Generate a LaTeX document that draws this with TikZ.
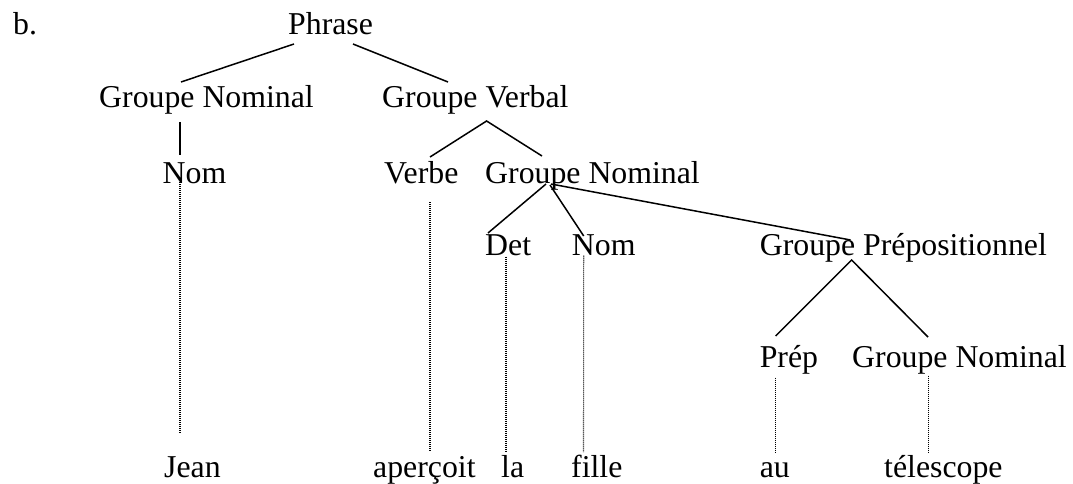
\documentclass[tikz,border=0pt]{standalone}
\usepackage{fontspec}
\setmainfont{Liberation Serif}
\begin{document}
\begin{tikzpicture}[x=1pt,y=-1pt,
  lbl/.style={anchor=base west,inner sep=0pt,font=\fontsize{31.8}{38}\selectfont},
  branch/.style={line width=1.5pt},
  leaf/.style={line width=1.1pt,dash pattern=on 1pt off 1pt}]
\useasboundingbox (0,0) rectangle (1073,484);

% labels (base west anchors)
\node[lbl] (b)      at (13,35)    {b.};
\node[lbl] (phrase) at (288,35)   {Phrase};
\node[lbl] (gn)     at (99,108)   {Groupe Nominal};
\node[lbl] (gv)     at (382,108)  {Groupe Verbal};
\node[lbl] (nom)    at (162.5,183){Nom};
\node[lbl] (verbe)  at (384,183)  {Verbe};
\node[lbl] (gnb)    at (485,183)  {Groupe Nominal};
\node[lbl] (det)    at (485,255.5){Det};
\node[lbl] (nomb)   at (571.7,255.5){Nom};
\node[lbl] (gp)     at (759.6,255.5){Groupe Prépositionnel};
\node[lbl] (prep)   at (759.6,367.5){Prép};
\node[lbl] (gnc)    at (852,367.5){Groupe Nominal};
\node[lbl] (jean)   at (164,477)  {Jean};
\node[lbl] (aperc)  at (373,477)  {aperçoit};
\node[lbl] (la)     at (501,477)  {la};
\node[lbl] (fille)  at (571,477)  {fille};
\node[lbl] (au)     at (759.6,477){au};
\node[lbl] (tele)   at (884,477)  {télescope};

% tree branches
\draw[branch] ([shift={(6,9)}]phrase.base west) -- ([shift={(82,-26)}]gn.base west);
\draw[branch] ([shift={(65,9)}]phrase.base west) -- ([shift={(66,-26)}]gv.base west);
\draw[branch] ([shift={(81,14)}]gn.base west) -- ([shift={(17.5,-28)}]nom.base west);
\draw[branch] ([shift={(46,-26)}]verbe.base west) -- ([shift={(104.6,13)}]gv.base west)
                -- ([shift={(57,-27)}]gnb.base west);
\draw[branch] ([shift={(61,1)}]gnb.base west) -- ([shift={(3,-22.5)}]det.base west);
\draw[branch] ([shift={(65,2)}]gnb.base west) -- ([shift={(12,-19.5)}]nomb.base west);
\draw[branch] ([shift={(66,1)}]gnb.base west) -- ([shift={(91,-15.5)}]gp.base west);
\draw[branch] ([shift={(16,-31.5)}]prep.base west) -- ([shift={(92,4.5)}]gp.base west)
                -- ([shift={(76,-30.5)}]gnc.base west);

% lexical attachments
\draw[leaf] ([shift={(17.5,-1)}]nom.base west) -- ([shift={(16,-44)}]jean.base west);
\draw[leaf] ([shift={(46,19)}]verbe.base west) -- ([shift={(57,-25)}]aperc.base west);
\draw[leaf] ([shift={(21,1)}]det.base west) -- ([shift={(5,-25)}]la.base west);
\draw[leaf] ([shift={(12,0)}]nomb.base west) -- ([shift={(12.5,-25)}]fille.base west);
\draw[leaf] ([shift={(16,10)}]prep.base west) -- ([shift={(16,-25)}]au.base west);
\draw[leaf] ([shift={(76.5,8)}]gnc.base west) -- ([shift={(44.5,-25)}]tele.base west);
\end{tikzpicture}
\end{document}
